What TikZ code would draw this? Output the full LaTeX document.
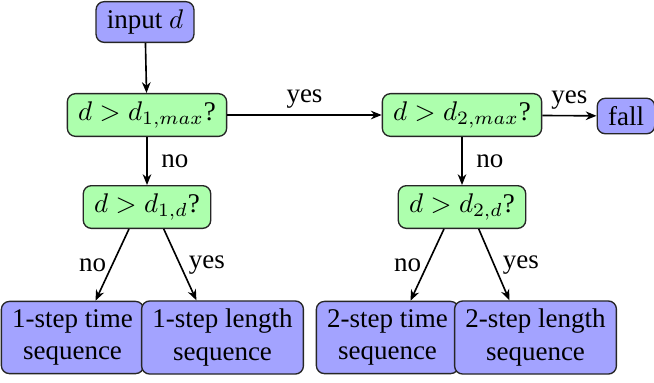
\documentclass[tikz,border=0pt]{standalone}
\usepackage{fontspec}
\setmainfont{Liberation Serif}
\usetikzlibrary{arrows.meta,calc}
\begin{document}
\begin{tikzpicture}[x=0.3704pt,y=-0.3704pt,
  box/.style={draw=black!85, line width=0.5pt, rounded corners=3pt, inner xsep=4pt, inner ysep=3pt, align=center, font=\normalsize},
  bluebox/.style={box, fill=blue!36},
  greenbox/.style={box, fill=green!32},
  arr/.style={-{Stealth[length=4pt,width=3.2pt]}, line width=0.6pt},
  lab/.style={font=\normalsize, inner sep=2pt}]
\useasboundingbox (0,0) rectangle (654,382);
\node[bluebox] (in) at (145,22) {input $d$};
\node[greenbox] (c1) at (147,115) {$d>d_{1,max}$?};
\node[greenbox] (c1d) at (147,207) {$d>d_{1,d}$?};
\node[greenbox] (c2) at (462,115) {$d>d_{2,max}$?};
\node[greenbox] (c2d) at (462,207) {$d>d_{2,d}$?};
\node[bluebox] (fall) at (626,116) {fall};
\node[bluebox] (b1) at (72.5,337.5) {1-step time\\sequence};
\node[bluebox] (b2) at (222.5,337.5) {1-step length\\sequence};
\node[bluebox] (b3) at (387.5,337.5) {2-step time\\sequence};
\node[bluebox] (b4) at (535.5,337.5) {2-step length\\sequence};
\draw[arr] (in) -- (c1);
\draw[arr] (c1) -- node[lab, midway, above=0pt] {yes} (c2);
\draw[arr] (c2) -- node[lab, midway, above=0pt] {yes} (fall);
\draw[arr] (c1) -- node[lab, midway, right=3pt] {no} (c1d);
\draw[arr] (c2) -- node[lab, midway, right=3pt] {no} (c2d);
\draw[arr] ($(c1d.south west)!0.36!(c1d.south east)$) -- node[lab, midway, left=0pt] {no} ($(b1.north west)!0.66!(b1.north east)$);
\draw[arr] ($(c1d.south west)!0.63!(c1d.south east)$) -- node[lab, midway, right=1pt] {yes} ($(b2.north west)!0.34!(b2.north east)$);
\draw[arr] ($(c2d.south west)!0.36!(c2d.south east)$) -- node[lab, midway, left=0pt] {no} ($(b3.north west)!0.66!(b3.north east)$);
\draw[arr] ($(c2d.south west)!0.63!(c2d.south east)$) -- node[lab, midway, right=1pt] {yes} ($(b4.north west)!0.34!(b4.north east)$);
\end{tikzpicture}
\end{document}
